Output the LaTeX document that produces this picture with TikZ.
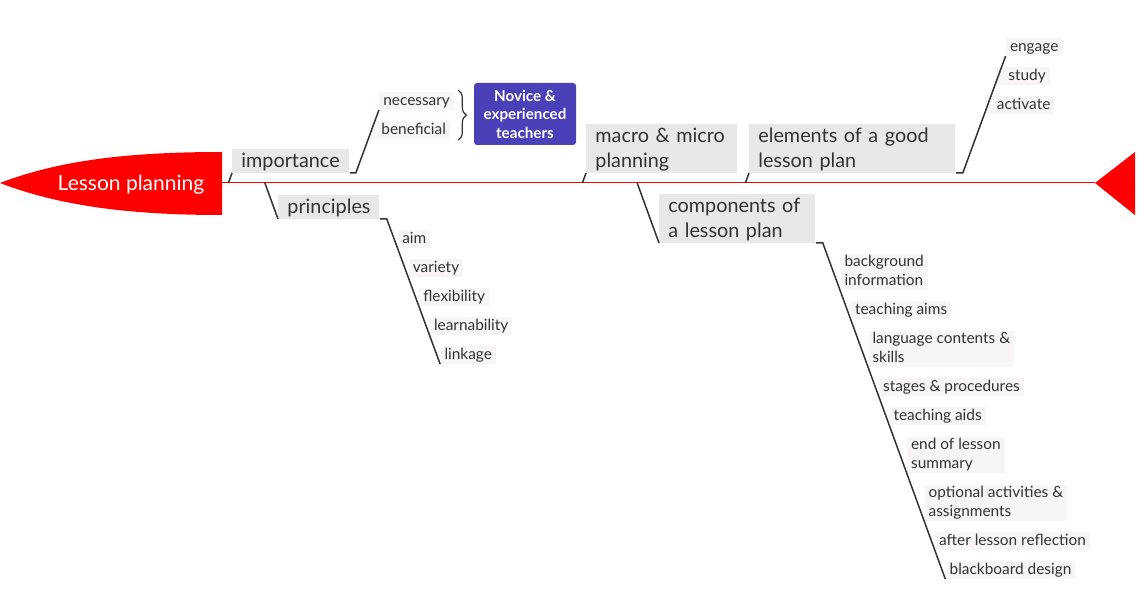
\documentclass[tikz,border=0pt]{standalone}
\usepackage{fontspec}
\setmainfont{Lato}
\usetikzlibrary{calc, decorations.pathreplacing}
\usepackage{xcolor}
\definecolor{fishred}{HTML}{FF0000}
\definecolor{bonegray}{HTML}{333333}
\definecolor{txtgray}{HTML}{333333}
\definecolor{mainfill}{HTML}{E8E8E8}
\definecolor{leaffill}{HTML}{F7F5F5}
\definecolor{novfill}{HTML}{4A40B8}
\tikzset{
  topic/.style   ={rectangle, fill=mainfill, text=txtgray, anchor=south west, align=left,
                   inner xsep=4.5pt, inner ysep=0.75pt, font=\fontsize{9.9}{12.5}\selectfont,
                   execute at begin node={\rule{0pt}{8.5pt}},
                   execute at end node={\rule[-2pt]{0pt}{2pt}}},
  leaf/.style    ={rectangle, fill=leaffill, text=txtgray, anchor=south west, align=left,
                   inner xsep=2pt, inner ysep=0.6pt, font=\fontsize{7.7}{9.5}\selectfont,
                   execute at begin node={\rule{0pt}{6.3pt}},
                   execute at end node={\rule[-1.5pt]{0pt}{1.5pt}}},
  novbox/.style  ={rectangle, rounded corners=1.5pt, fill=novfill, text=white, align=center,
                   minimum width=51pt, minimum height=31pt, font=\bfseries\fontsize{7.6}{9.25}\selectfont},
  rootlbl/.style ={text=white, font=\fontsize{10.5}{12}\selectfont},
  bone/.style    ={draw=bonegray, line width=0.75pt},
  spine/.style   ={draw=fishred, line width=0.5pt},
  brc/.style     ={draw=bonegray, line width=0.6pt, decorate, decoration={brace, amplitude=4pt}},
}
\begin{document}
\begin{tikzpicture}[x=0.5pt, y=-0.5pt]
  \useasboundingbox (0,0) rectangle (1145,593);
  % head, tail and spine
  \fill[fishred] (0,183) .. controls (60,160) and (130,152) .. (222,152) -- (222,215)
    .. controls (130,215) and (60,206) .. (0,183) -- cycle;
  \node[rootlbl] (root) at (131,185) {Lesson planning};
  \coordinate (head) at (222,183);
  \coordinate (tail) at (1095,183);
  \fill[fishred] (tail) -- (1135,152) -- (1135,215) -- cycle;
  \draw[spine] (head) -- (tail);

  \coordinate (b1) at (228.4,183);
  \coordinate (b2) at (264.9,183);
  \coordinate (b3) at (582.4,183);
  \coordinate (b4) at (637.2,183);
  \coordinate (b5) at (745.4,183);

  \node[topic, text width=49.5pt] (imp) at (232,173) {importance};
  \node[topic, text width=41.5pt] (prin) at (278,219) {principles};
  \node[topic, text width=66.5pt] (macro) at (586,173) {macro \& micro\\planning};
  \node[topic, text width=94pt] (elem) at (749,173) {elements of a good\\lesson plan};
  \node[topic, text width=69pt] (comp) at (659,243) {components of\\a lesson plan};

  \node[leaf] (nec) at (378.9,110) {necessary};
  \node[leaf] (ben) at (368.4,139) {\hspace*{4.3pt}beneficial};
  \node[novbox] (nov) at (525,114) {Novice \&\\experienced\\teachers};

  \node[leaf] (aim) at (397.9,248) {aim};
  \node[leaf] (var) at (408.5,277) {variety};
  \node[leaf] (flex) at (419,306) {flexibility};
  \node[leaf] (learn) at (429.6,335) {learnability};
  \node[leaf] (link) at (440.1,364) {linkage};

  \node[leaf] (eng) at (1005.6,56) {engage};
  \node[leaf] (stu) at (995,85) {\hspace*{4.5pt}study};
  \node[leaf] (act) at (984.5,114) {\hspace*{4pt}activate};

  \node[leaf] (bg) at (840.1,290) {background\\information};
  \node[leaf] (aims) at (850.7,319) {teaching aims};
  \node[leaf] (lang) at (868.1,367) {language contents \&\\skills};
  \node[leaf] (stag) at (878.7,396) {stages \& procedures};
  \node[leaf] (aids) at (889.2,425) {teaching aids};
  \node[leaf] (endl) at (906.7,473) {end of lesson\\summary};
  \node[leaf] (opt) at (924.2,521) {optional activities \&\\assignments};
  \node[leaf] (refl) at (934.7,550) {after lesson reflection};
  \node[leaf] (board) at (945.3,579) {blackboard design};

  \draw[bone] (b1) -- (imp.south west);
  \draw[bone] (b2) -- (prin.south west);
  \draw[bone] (b3) -- (macro.south west);
  \draw[bone] (b4) -- (comp.south west);
  \draw[bone] (b5) -- (elem.south west);
  \draw[bone] (imp.south east) -- ++(6,0) -- (nec.south west);
  \draw[bone] (prin.south east) -- ++(7,0) -- (link.south west);
  \draw[bone] (elem.south east) -- ++(7,0) -- (eng.south west);
  \draw[bone] (comp.south east) -- ++(7,0) -- (board.south west);
  \draw[brc] ($(nec.north east)+(4,-1)$) -- ($(nec.north east |- ben.south east)+(4,1)$);
\end{tikzpicture}
\end{document}
